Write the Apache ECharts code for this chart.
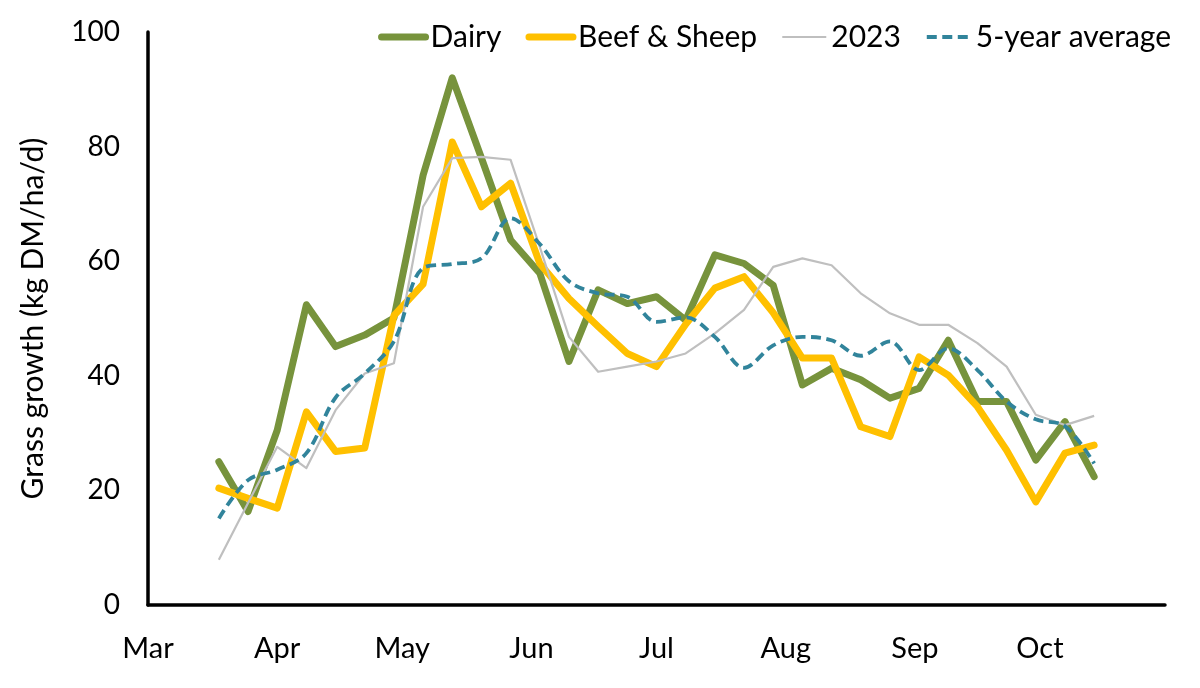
<!DOCTYPE html>
<html>
<head>
<meta charset="utf-8">
<script src="https://cdn.jsdelivr.net/npm/echarts@6/dist/echarts.min.js"></script>
<style>
html,body{margin:0;padding:0;background:#fff;}
#chart{width:1200px;height:688px;}
</style>
</head>
<body>
<div id="chart"></div>
<script>
// weekly observation dates (2024 season)
var dates = ['03-18','03-25','04-01','04-08','04-15','04-22','04-29','05-06','05-13','05-20','05-27',
             '06-03','06-10','06-17','06-24','07-01','07-08','07-15','07-22','07-29','08-05','08-12',
             '08-19','08-26','09-02','09-09','09-16','09-23','09-30','10-07','10-14'];
var dairy = [25.0, 16.3, 30.5, 52.4, 45.1, 47.1, 50.1, 75.0, 92.0, 78.0, 63.7, 57.9, 42.5, 55.0, 52.6, 53.8,
             49.7, 61.1, 59.6, 55.8, 38.4, 41.3, 39.3, 36.1, 37.8, 46.2, 35.5, 35.5, 25.3, 32.0, 22.4];
var beefSheep = [20.4, 18.6, 16.9, 33.7, 26.8, 27.4, 50.5, 56.0, 80.8, 69.5, 73.6, 59.6, 53.5, 48.6, 43.9, 41.6,
             49.0, 55.3, 57.3, 51.0, 43.1, 43.1, 31.1, 29.4, 43.3, 40.1, 34.6, 27.0, 18.0, 26.5, 27.9];
var year2023 = [7.9, 17.8, 27.6, 23.9, 34.0, 40.4, 42.2, 69.5, 78.0, 78.2, 77.7, 62.5, 46.8, 40.7, 41.6, 42.5,
             43.9, 47.4, 51.5, 59.0, 60.5, 59.3, 54.4, 50.9, 48.9, 48.9, 45.7, 41.6, 33.2, 31.4, 33.0];
var avg5yr = [15.1, 21.8, 23.6, 26.5, 36.2, 40.4, 46.0, 58.8, 59.5, 60.5, 67.5, 63.0, 56.5, 54.4, 53.8, 49.4,
             50.2, 46.8, 41.4, 45.3, 46.8, 46.2, 43.5, 46.0, 41.0, 44.8, 41.0, 35.5, 32.4, 31.2, 24.7];
var monthLabels = ['Mar','Apr','May','Jun','Jul','Aug','Sep','Oct'];
var monthStarts = ['03-01','04-01','05-01','06-01','07-01','08-01','09-01','10-01'];
var axisEnd = '10-31';
var yTicks = [0, 20, 40, 60, 80, 100];

function dayOf(s) {
  var p = s.split('-');
  return Math.round((Date.UTC(2024, +p[0] - 1, +p[1]) - Date.UTC(2024, 2, 1)) / 86400000);
}
var xs = dates.map(dayOf);
var monthDays = monthStarts.map(dayOf);
function pairs(vals) { return vals.map(function (v, i) { return [xs[i], v]; }); }

var FONT = 'Lato';
var C_DAIRY = '#77933C', C_BEEF = '#FFC000', C_2023 = '#BFBFBF', C_AVG = '#31849B';
var W_THICK = 7, W_THIN = 2.2, W_AVG = 3.8, DASH = [10, 5.5];

var chart = echarts.init(document.getElementById('chart'), null, {renderer: 'canvas'});
chart.setOption({
  backgroundColor: '#ffffff',
  animation: false,
  textStyle: {fontFamily: FONT},
  legend: {
    right: 24, top: 17,
    itemWidth: 44, itemHeight: 14, itemGap: 24,
    itemStyle: {opacity: 0},
    textStyle: {fontFamily: FONT, fontSize: 30, color: '#000'},
    data: [
      {name: 'Dairy', lineStyle: {width: W_THICK, color: C_DAIRY}},
      {name: 'Beef & Sheep', lineStyle: {width: W_THICK, color: C_BEEF}},
      {name: '2023', lineStyle: {width: W_THIN, color: C_2023}},
      {name: '5-year average', lineStyle: {width: W_AVG, color: C_AVG, type: DASH}}
    ]
  },
  grid: {left: 148, right: 35, top: 32, bottom: 83, containLabel: false},
  xAxis: {
    type: 'value', min: 0, max: dayOf(axisEnd),
    axisLine: {show: true, onZero: false, lineStyle: {color: '#000', width: 3.5}},
    axisTick: {show: false},
    splitLine: {show: false},
    axisLabel: {
      customValues: monthDays,
      margin: 29,
      fontFamily: FONT, fontSize: 29, color: '#000',
      formatter: function (v) { var i = monthDays.indexOf(v); return i >= 0 ? monthLabels[i] : ''; }
    }
  },
  yAxis: {
    type: 'value', min: yTicks[0], max: yTicks[yTicks.length - 1], interval: 20,
    name: 'Grass growth (kg DM/ha/d)', nameLocation: 'middle', nameGap: 100, nameRotate: 90,
    nameTextStyle: {fontFamily: FONT, fontSize: 30, color: '#000'},
    axisLine: {show: true, lineStyle: {color: '#000', width: 3.5}},
    axisTick: {show: false},
    splitLine: {show: false},
    axisLabel: {margin: 28, fontFamily: FONT, fontSize: 28, color: '#000'}
  },
  series: [
    {name: 'Dairy', type: 'line', data: pairs(dairy), symbol: 'none', color: C_DAIRY,
     lineStyle: {width: W_THICK, color: C_DAIRY, join: 'round', cap: 'round'}},
    {name: 'Beef & Sheep', type: 'line', data: pairs(beefSheep), symbol: 'none', color: C_BEEF,
     lineStyle: {width: W_THICK, color: C_BEEF, join: 'round', cap: 'round'}},
    {name: '2023', type: 'line', data: pairs(year2023), symbol: 'none', color: C_2023,
     lineStyle: {width: W_THIN, color: C_2023, join: 'round'}},
    {name: '5-year average', type: 'line', data: pairs(avg5yr), symbol: 'none', color: C_AVG,
     smooth: 0.35,
     lineStyle: {width: W_AVG, color: C_AVG, type: DASH}}
  ]
});
</script>
</body>
</html>
